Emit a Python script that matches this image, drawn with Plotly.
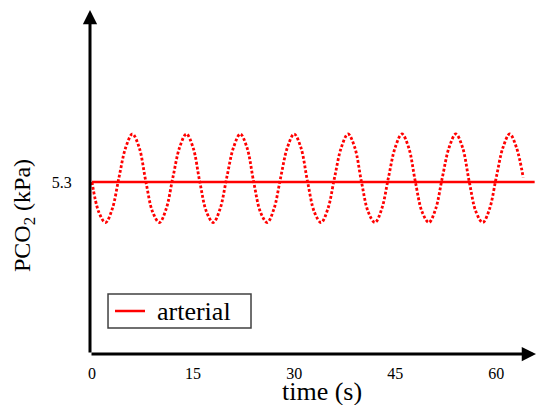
import plotly.graph_objects as go

# ---- data ----
time_s = list(range(0, 65))
pco2_osc = [
    5.30, 5.10, 5.03, 5.12, 5.33, 5.53, 5.62, 5.53,
    5.30, 5.10, 5.03, 5.12, 5.33, 5.53, 5.62, 5.53,
    5.30, 5.10, 5.03, 5.12, 5.33, 5.53, 5.62, 5.53,
    5.30, 5.10, 5.03, 5.12, 5.33, 5.53, 5.62, 5.53,
    5.30, 5.10, 5.03, 5.12, 5.33, 5.53, 5.62, 5.53,
    5.30, 5.10, 5.03, 5.12, 5.33, 5.53, 5.62, 5.53,
    5.30, 5.10, 5.03, 5.12, 5.33, 5.53, 5.62, 5.53,
    5.30, 5.10, 5.03, 5.12, 5.33, 5.53, 5.62, 5.53,
    5.33,
]
arterial_t = [0, 65.7]
arterial_v = [5.3, 5.3]
x_ticks = [0, 15, 30, 45, 60]
y_ticks = [5.3]
legend_label = "arterial"
x_title = "time (s)"
y_title = "PCO<sub>2</sub> (kPa)"

X_RANGE = [-0.3, 65.9]
Y_RANGE = [4.153, 6.447]

serif = "Liberation Serif, Times New Roman, serif"
RED = "#ff0000"

fig = go.Figure()
fig.add_trace(go.Scatter(
    x=time_s, y=pco2_osc, mode="lines", line_shape="spline",
    line=dict(color=RED, width=2.8, dash="2.8px,2px"),
    showlegend=False, hoverinfo="skip"))
fig.add_trace(go.Scatter(
    x=arterial_t, y=arterial_v, mode="lines", name=legend_label,
    line=dict(color=RED, width=2.5), showlegend=False))

# axis arrows
fig.add_annotation(x=X_RANGE[1], y=Y_RANGE[0], ax=X_RANGE[0], ay=Y_RANGE[0],
                   xref="x", yref="y", axref="x", ayref="y", text="",
                   showarrow=True, arrowhead=2, arrowsize=0.95, arrowwidth=3,
                   arrowcolor="black")
fig.add_annotation(x=X_RANGE[0], y=Y_RANGE[1], ax=X_RANGE[0], ay=Y_RANGE[0],
                   xref="x", yref="y", axref="x", ayref="y", text="",
                   showarrow=True, arrowhead=2, arrowsize=0.95, arrowwidth=3,
                   arrowcolor="black")

# axis titles
fig.add_annotation(x=0.520, y=-0.110, xref="paper", yref="paper", text=x_title,
                   showarrow=False, font=dict(size=26, family=serif),
                   xanchor="center", yanchor="middle")
fig.add_annotation(x=-0.148, y=0.404, xref="paper", yref="paper", text=y_title,
                   showarrow=False, font=dict(size=24, family=serif),
                   textangle=-90, xanchor="center", yanchor="middle")

# legend box (drawn)
fig.add_shape(type="rect", xref="paper", yref="paper",
              x0=0.0404, x1=0.361, y0=0.0756, y1=0.1744,
              line=dict(color="#404040", width=1.5), fillcolor="white", layer="above")
fig.add_shape(type="line", xref="paper", yref="paper",
              x0=0.0561, x1=0.1233, y0=0.125, y1=0.125,
              line=dict(color=RED, width=2.5), layer="above")
fig.add_annotation(x=0.1457, y=0.125, xref="paper", yref="paper", text=legend_label,
                   showarrow=False, font=dict(size=26, family=serif),
                   xanchor="left", yanchor="middle")

fig.update_layout(
    width=536, height=405,
    margin=dict(l=90, r=0, t=10, b=51),
    paper_bgcolor="white", plot_bgcolor="white",
    font=dict(family=serif, color="black"),
    showlegend=False,
    xaxis=dict(range=X_RANGE, tickvals=x_ticks, ticks="outside", ticklen=5,
               tickcolor="rgba(0,0,0,0)", showgrid=False, zeroline=False,
               showline=False, tickfont=dict(size=16), automargin=False),
    yaxis=dict(range=Y_RANGE, tickvals=y_ticks, ticks="outside", ticklen=14,
               tickcolor="rgba(0,0,0,0)", showgrid=False, zeroline=False,
               showline=False, tickfont=dict(size=16), automargin=False),
)

fig.write_html(
    "out.html",
    config={"displayModeBar": False},
    post_script="document.body.style.margin='0';"
                "document.documentElement.style.overflow='hidden';"
                "document.body.style.overflow='hidden';",
)
